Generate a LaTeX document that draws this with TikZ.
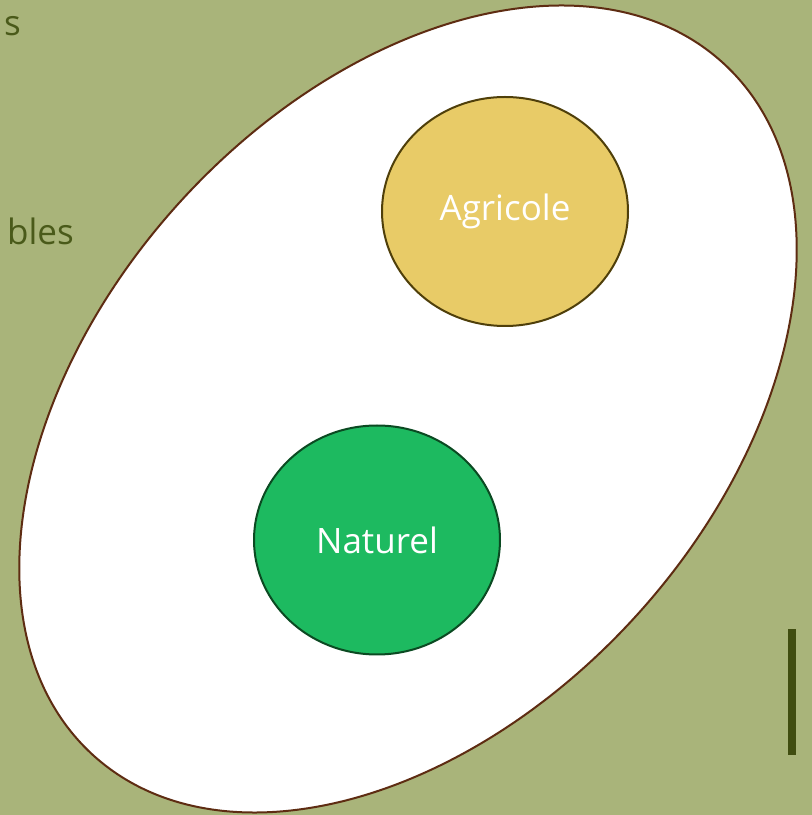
\documentclass[tikz,border=0pt]{standalone}
\usepackage{fontspec}
\setmainfont{Open Sans}
\usetikzlibrary{shapes.geometric}
\definecolor{fond}{HTML}{A9B47A}
\definecolor{olive}{HTML}{4A5A1A}
\definecolor{barre}{HTML}{404D10}
\definecolor{brun}{HTML}{5E2C12}
\definecolor{jaune}{HTML}{E8CB67}
\definecolor{jaunebord}{HTML}{4F3F0A}
\definecolor{vert}{HTML}{1DBA60}
\definecolor{vertbord}{HTML}{0B4A22}
\tikzset{
  zone/.style={ellipse,draw,line width=2pt,minimum width=246pt,minimum height=229pt,inner sep=0pt,text=white,font=\fontsize{35}{42}\selectfont},
  bord/.style={text=olive,font=\fontsize{35}{42}\selectfont,anchor=base east,inner sep=0pt}
}
\begin{document}
\begin{tikzpicture}[x=1pt,y=1pt]
				\fill[fond](0,0)rectangle(812,815);
				\useasboundingbox(0,0)rectangle(812,815);
				\node[bord](s) at (21,779){s};
				\node[bord](bles) at (74,570){bles};
				\draw[brun,fill=white,line width=2pt](408,406)ellipse[x radius=468,y radius=308,rotate=47.7];
				\node[zone,draw=jaunebord,fill=jaune](agricole) at (505,603.5){Agricole};
				\node[zone,draw=vertbord,fill=vert](naturel) at (377,275){Naturel};
				\fill[barre](788,60)rectangle(796,186);
			\end{tikzpicture}
\end{document}
